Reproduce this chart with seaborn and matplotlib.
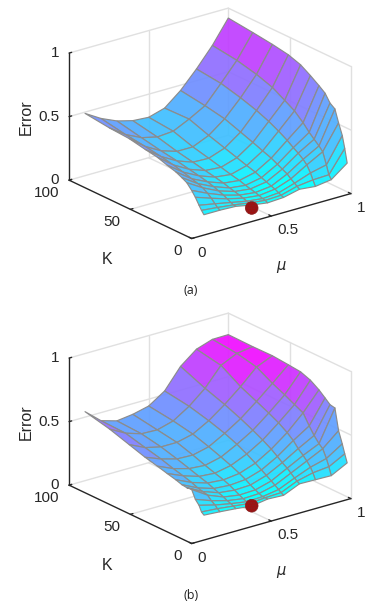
import numpy as np
import seaborn as sns
import matplotlib
matplotlib.use("Agg")
import matplotlib.pyplot as plt
from mpl_toolkits.mplot3d import proj3d

mu_values = [0.1, 0.2, 0.3, 0.4, 0.5, 0.6, 0.7, 0.8, 0.9, 1.0]
k_values = [3, 5, 7, 10, 13, 17, 21, 26, 33, 41, 51, 64, 80, 100]

# rows follow k_values, columns follow mu_values
error_a = [
    [.138, .138, .133, .108, .090, .097, .126, .113, .131, .226],
    [.163, .150, .135, .115, .100, .105, .140, .155, .160, .333],
    [.194, .170, .145, .120, .105, .115, .155, .200, .229, .425],
    [.243, .200, .160, .130, .115, .130, .175, .250, .318, .510],
    [.283, .225, .175, .140, .125, .140, .200, .280, .350, .606],
    [.326, .250, .190, .150, .135, .155, .220, .310, .384, .634],
    [.347, .265, .205, .160, .145, .170, .240, .335, .420, .693],
    [.370, .280, .220, .175, .160, .190, .265, .370, .473, .730],
    [.390, .300, .235, .190, .175, .210, .290, .410, .534, .777],
    [.416, .320, .250, .205, .195, .235, .320, .450, .580, .825],
    [.432, .340, .270, .225, .220, .265, .355, .490, .636, .858],
    [.457, .360, .290, .250, .250, .305, .400, .530, .679, .880],
    [.467, .380, .320, .290, .300, .360, .430, .570, .716, .900],
    [.490, .415, .360, .327, .318, .355, .458, .592, .742, .922],
]
error_b = [
    [.174, .165, .154, .139, .159, .153, .208, .205, .202, .267],
    [.190, .180, .165, .150, .160, .165, .220, .250, .263, .330],
    [.233, .200, .175, .155, .160, .180, .235, .285, .318, .398],
    [.266, .220, .185, .165, .170, .200, .260, .320, .381, .488],
    [.330, .250, .200, .180, .185, .220, .285, .350, .407, .653],
    [.326, .260, .215, .200, .205, .245, .310, .385, .453, .661],
    [.331, .270, .230, .220, .230, .270, .340, .430, .510, .695],
    [.347, .290, .250, .240, .255, .300, .375, .470, .590, .736],
    [.364, .310, .270, .260, .285, .340, .415, .515, .623, .780],
    [.385, .330, .295, .285, .315, .380, .455, .555, .663, .809],
    [.409, .360, .325, .320, .350, .420, .500, .600, .707, .819],
    [.449, .390, .360, .360, .390, .460, .552, .657, .776, .830],
    [.498, .430, .390, .385, .420, .500, .606, .751, .810, .828],
    [.543, .437, .400, .416, .446, .529, .687, .787, .829, .831],
]
best_a = [0.4, 3, 0.085]
best_b = [0.4, 3, 0.142]

mu_ticks = [0, 0.5, 1]
k_ticks = [0, 50, 100]
z_ticks = [0, 0.5, 1]
mu_ticklabels = ["0", "0.5", "1"]
k_ticklabels = ["0", "50", "100"]
z_ticklabels = ["0", "0.5", "1"]

W, H = 387, 604
GRID = "#e0e0e0"
INK = "#262626"
LEVELS = 16

sns.set_theme(style="white")
plt.rcParams["font.family"] = ["Liberation Sans", "DejaVu Sans"]
cmap = sns.color_palette("cool", as_cmap=True)


def tick_label(ax, x, y, z, s, ha):
    # plain 2D text at the projected spot of a 3D point
    x2, y2, _ = proj3d.proj_transform(x, y, z, ax.get_proj())
    ax.text2D(x2, y2, s, transform=ax.transData, ha=ha, va="center", fontsize=11, color=INK)


def draw_frame(ax):
    # back walls and floor
    for z in z_ticks:
        ax.plot([0, 1], [100, 100], [z, z], color=GRID, lw=1, zorder=1)
        ax.plot([1, 1], [0, 100], [z, z], color=GRID, lw=1, zorder=1)
    for m in mu_ticks[1:]:
        ax.plot([m, m], [100, 100], [0, 1], color=GRID, lw=1, zorder=1)
    for k in k_ticks[:2]:
        ax.plot([1, 1], [k, k], [0, 1], color=GRID, lw=1, zorder=1)
    ax.plot([0.5, 0.5], [0, 100], [0, 0], color=GRID, lw=1, zorder=1)
    ax.plot([0, 1], [50, 50], [0, 0], color=GRID, lw=1, zorder=1)

    # black axes
    ax.plot([0, 0], [100, 100], [0, 1], color=INK, lw=1, zorder=1.5)
    ax.plot([0, 0], [0, 100], [0, 0], color=INK, lw=1, zorder=1.5)
    ax.plot([0, 1], [0, 0], [0, 0], color=INK, lw=1, zorder=1.5)
    for z in z_ticks:
        ax.plot([0, 0.016], [100, 100], [z, z], color=INK, lw=1, zorder=1.5)
    for m in mu_ticks:
        ax.plot([m, m], [0, 2], [0, 0], color=INK, lw=1, zorder=1.5)
    for k in k_ticks:
        ax.plot([0, 0.016], [k, k], [0, 0], color=INK, lw=1, zorder=1.5)

    for z, s in zip(z_ticks, z_ticklabels):
        tick_label(ax, -0.039, 103, z, s, "right")
    for k, s in zip(k_ticks, k_ticklabels):
        tick_label(ax, -0.143, k - 10.5, 0, s, "right")
    for m, s in zip(mu_ticks, mu_ticklabels):
        tick_label(ax, m - 0.093, -16.9, 0, s, "left")


def draw_panel(fig, bottom_px, text_dy, values, best, caption):
    S = 302
    ax = fig.add_axes([54.9 / W, 1 - bottom_px / H, S / W, S / H],
                      projection="3d", computed_zorder=False)
    ax.set_proj_type("ortho")
    ax.view_init(elev=21.5, azim=-127.6)
    ax.set_xlim(0, 1, view_margin=0)
    ax.set_ylim(0, 100, view_margin=0)
    ax.set_zlim(0, 1, view_margin=0)
    ax.set_box_aspect((1, 1, 0.68), zoom=1.0134)
    ax.set_axis_off()
    ax.patch.set_alpha(0)

    draw_frame(ax)

    # rows run from high K down, so each face takes its colour from its high K corner
    X, Y = np.meshgrid(mu_values, k_values[::-1])
    Z = np.array(values)[::-1]
    t = (Z - Z.min()) / (Z.max() - Z.min())
    colors = cmap(np.floor(t * LEVELS) / LEVELS)
    ax.plot_surface(X, Y, Z, facecolors=colors, rstride=1, cstride=1, shade=False,
                    edgecolor="#8c8c8c", linewidth=0.85, alpha=0.93, zorder=2)
    ax.scatter([best[0]], [best[1]], [best[2]], s=85, color="#a01010",
               edgecolor="#8a2020", linewidth=0.4, hatch="......", depthshade=False, zorder=3)

    fig.text(26 / W, 1 - (117 + text_dy) / H, "Error", rotation=90, ha="center",
             va="center", fontsize=11.5, color=INK)
    fig.text(107 / W, 1 - (260 + text_dy) / H, "K", ha="center", va="center",
             fontsize=11.5, color=INK)
    fig.text(281 / W, 1 - (267 + text_dy) / H, r"$\mu$", ha="center", va="center",
             fontsize=10.5, color=INK)
    fig.text(191 / W, 1 - (290 + text_dy) / H, caption, ha="center", va="center",
             fontsize=9, family=["Open Sans", "DejaVu Sans"], color="#222222")


fig = plt.figure(figsize=(W / 100, H / 100), dpi=100)
draw_panel(fig, 278.4, 0, error_a, best_a, "(a)")
draw_panel(fig, 583.4, 305.5, error_b, best_b, "(b)")
fig.savefig("out.png", dpi=100)
